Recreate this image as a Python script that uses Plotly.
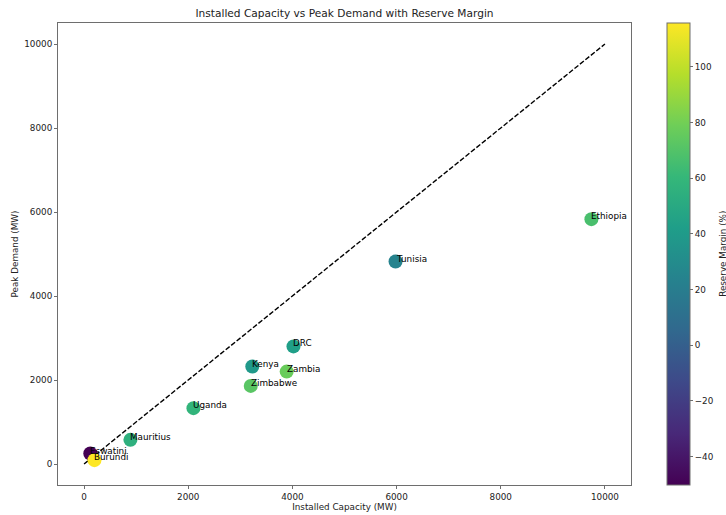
import plotly.graph_objects as go

# Installed capacity, peak demand and reserve margin by country
countries = ["Ethiopia", "Tunisia", "DRC", "Kenya", "Zambia", "Zimbabwe",
             "Uganda", "Mauritius", "Eswatini", "Burundi"]
installed_mw = [9740, 5980, 4020, 3230, 3890, 3200, 2100, 890, 120, 200]
peak_mw = [5830, 4820, 2800, 2320, 2200, 1860, 1330, 575, 250, 92]
reserve_margin = [67, 24, 43, 39, 77, 72, 58, 55, -50.2, 115.7]

parity = [0, 10000]
axis_ticks = [0, 2000, 4000, 6000, 8000, 10000]
axis_tick_labels = ["0", "2000", "4000", "6000", "8000", "10000"]
cbar_ticks = [-40, -20, 0, 20, 40, 60, 80, 100]

FONT = "DejaVu Sans"
AXIS_COLOR = "#6e6e6e"

fig = go.Figure()

# y = x reference line
fig.add_trace(go.Scatter(
    x=parity, y=parity, mode="lines",
    line=dict(color="black", width=1.4, dash="5px,2px"),
    hoverinfo="skip", showlegend=False,
))

fig.add_trace(go.Scatter(
    x=installed_mw, y=peak_mw, mode="markers",
    marker=dict(
        size=14, color=reserve_margin, colorscale="Viridis",
        line=dict(width=0),
        colorbar=dict(
            thickness=23, len=1, lenmode="fraction",
            x=1.061, xanchor="left", y=0.5, yanchor="middle",
            xpad=0, ypad=0,
            outlinewidth=1, outlinecolor=AXIS_COLOR,
            tickvals=cbar_ticks, ticks="outside", ticklen=3,
            tickcolor=AXIS_COLOR,
            tickfont=dict(family=FONT, size=8.8, color="#222"),
        ),
    ),
    text=countries, hoverinfo="text+x+y", showlegend=False,
))

# Country labels: left-aligned, baseline at the marker centre
for name, cx, cy in zip(countries, installed_mw, peak_mw):
    fig.add_annotation(
        x=cx, y=cy, text=name, showarrow=False,
        xanchor="left", yanchor="bottom", xshift=-1, yshift=-3,
        borderpad=0,
        font=dict(family=FONT, size=8.8, color="black"),
    )

# Colorbar label
fig.add_annotation(
    xref="paper", yref="paper", x=1.0 + (724 - 632) / 574, y=0.5,
    text="Reserve Margin (%)", textangle=-90, showarrow=False,
    xanchor="center", yanchor="middle",
    font=dict(family=FONT, size=8.8, color="#222"),
)

axis_common = dict(
    showgrid=False, zeroline=False, automargin=False,
    showline=True, mirror=True, linecolor=AXIS_COLOR, linewidth=1,
    ticks="outside", ticklen=3, tickcolor=AXIS_COLOR,
    tickfont=dict(family=FONT, size=8.8, color="#222"),
    tickvals=axis_ticks, ticktext=axis_tick_labels,
    range=[-500, 10500],
)

fig.update_layout(
    width=726, height=515,
    margin=dict(l=58, r=94, t=23, b=30),
    plot_bgcolor="white", paper_bgcolor="white",
    title=dict(
        text="Installed Capacity vs Peak Demand with Reserve Margin",
        x=0.5, xref="paper", xanchor="center",
        y=1 - 13 / 515, yref="container", yanchor="middle",
        font=dict(family=FONT, size=10.6, color="#222"),
    ),
    xaxis=dict(**axis_common,
               title=dict(text="Installed Capacity (MW)", standoff=3,
                          font=dict(family=FONT, size=8.8, color="#222"))),
    yaxis=dict(**axis_common,
               title=dict(text="Peak Demand (MW)", standoff=4,
                          font=dict(family=FONT, size=8.8, color="#222"))),
)

fig.write_html("out.html")
